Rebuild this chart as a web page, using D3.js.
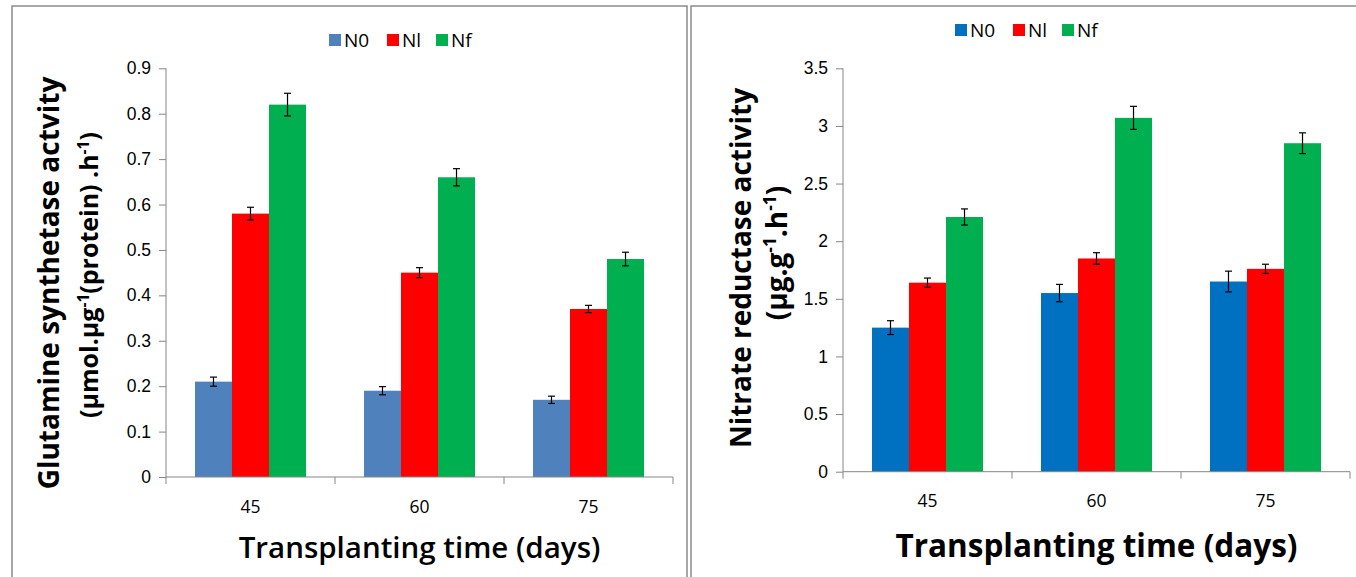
<!DOCTYPE html>
<html>
    <head>
        <meta charset="UTF-8">
        <title>Glutamine synthetase and nitrate reductase activity</title>
        <script src="https://cdn.jsdelivr.net/npm/d3@7"></script>
        <style>
            body { margin: 0; background: #fff; }
            svg { font-family: "Open Sans", sans-serif; }
            .axis path, .axis line { stroke: #868686; }
            .axis text { font-size: 17.5px; fill: #000; }
            .frame { fill: none; stroke: #8c8c8c; stroke-width: 1.5px; }
        </style>
    </head>
    <body>
        <svg width="1356" height="577"></svg>
        <script>
            // transplanting time (days) and treatments
            var days = ['45', '60', '75'];
            var treatments = ['N0', 'Nl', 'Nf'];

            // glutamine synthetase activity
            var gsN0 = [0.21, 0.19, 0.17];
            var gsNl = [0.58, 0.45, 0.37];
            var gsNf = [0.82, 0.66, 0.48];
            var gsErrN0 = [0.010, 0.009, 0.008];
            var gsErrNl = [0.014, 0.011, 0.008];
            var gsErrNf = [0.025, 0.019, 0.015];
            var gsTicks = [0, 0.1, 0.2, 0.3, 0.4, 0.5, 0.6, 0.7, 0.8, 0.9];

            // nitrate reductase activity
            var nrN0 = [1.25, 1.55, 1.65];
            var nrNl = [1.64, 1.85, 1.76];
            var nrNf = [2.21, 3.07, 2.85];
            var nrErrN0 = [0.06, 0.075, 0.09];
            var nrErrNl = [0.04, 0.05, 0.04];
            var nrErrNf = [0.07, 0.1, 0.09];
            var nrTicks = [0, 0.5, 1, 1.5, 2, 2.5, 3, 3.5];

            var svg = d3.select('svg');

            // panel frames
            svg.append('path').attr('class', 'frame').attr('d', 'M12,577V6H687V577');
            svg.append('path').attr('class', 'frame').attr('d', 'M691,577V6H1356');

            function drawPanel(p) {
                var g = svg.append('g');

                var x = d3.scaleBand().domain(days).range([p.x0, p.x1])
                    .paddingInner(0.343).paddingOuter(0.343 / 2);
                var xs = d3.scaleBand().domain(treatments).range([0, x.bandwidth()]);
                var y = d3.scaleLinear().domain([0, p.max]).range([p.y0, p.y1]);

                var rows = [];
                treatments.forEach(function(t, i) {
                    days.forEach(function(d, j) {
                        rows.push({ t: t, day: d, v: p.values[i][j], e: p.errors[i][j] });
                    });
                });

                // y axis
                g.append('g')
                    .attr('class', 'axis')
                    .attr('transform', 'translate(' + p.x0 + ',0)')
                    .call(d3.axisLeft(y).tickValues(p.ticks).tickSize(7).tickPadding(8)
                        .tickFormat(function(d) { return String(d); }))
                    .call(function(a) { a.select('.domain').attr('d', 'M0,' + p.y1 + 'V' + p.y0); });

                // bars
                g.selectAll('.bar')
                    .data(rows)
                    .enter().append('rect')
                    .attr('x', function(d) { return x(d.day) + xs(d.t); })
                    .attr('y', function(d) { return y(d.v); })
                    .attr('width', xs.bandwidth())
                    .attr('height', function(d) { return y(0) - y(d.v); })
                    .attr('fill', function(d) { return p.colors[treatments.indexOf(d.t)]; });

                // error bars
                var eb = g.selectAll('.err')
                    .data(rows)
                    .enter().append('g')
                    .attr('stroke', '#000')
                    .attr('stroke-width', 1.2)
                    .attr('transform', function(d) { return 'translate(' + (x(d.day) + xs(d.t) + xs.bandwidth() / 2) + ',0)'; });
                eb.append('line')
                    .attr('y1', function(d) { return y(d.v + d.e); })
                    .attr('y2', function(d) { return y(d.v - d.e); });
                eb.append('line').attr('x1', -3.5).attr('x2', 3.5)
                    .attr('y1', function(d) { return y(d.v + d.e); })
                    .attr('y2', function(d) { return y(d.v + d.e); });
                eb.append('line').attr('x1', -3.5).attr('x2', 3.5)
                    .attr('y1', function(d) { return y(d.v - d.e); })
                    .attr('y2', function(d) { return y(d.v - d.e); });

                // x axis: line, ticks at category boundaries, labels
                var xa = g.append('g').attr('class', 'axis');
                var step = x.step();
                var bounds = d3.range(days.length + 1).map(function(i) { return p.x0 + i * step; });
                xa.append('line').attr('x1', p.x0).attr('x2', p.x1).attr('y1', y(0)).attr('y2', y(0));
                xa.selectAll('.btick').data(bounds).enter().append('line')
                    .attr('x1', function(d) { return d; }).attr('x2', function(d) { return d; })
                    .attr('y1', y(0)).attr('y2', y(0) + 7);
                xa.selectAll('.lbl').data(days).enter().append('text')
                    .attr('x', function(d) { return x(d) + x.bandwidth() / 2; })
                    .attr('y', p.xLabelY)
                    .attr('text-anchor', 'middle')
                    .text(function(d) { return d; });

                // x title
                g.append('text')
                    .attr('x', (p.x0 + p.x1) / 2 + p.titleDx)
                    .attr('y', p.titleY)
                    .attr('text-anchor', 'middle')
                    .style('font-size', p.titleSize + 'px')
                    .style('font-weight', p.titleWeight)
                    .text('Transplanting time (days)');

                // y title, two lines
                p.yTitle.forEach(function(line, k) {
                    var t = g.append('text')
                        .attr('transform', 'rotate(-90)')
                        .attr('x', -line.cy)
                        .attr('y', line.bx)
                        .attr('text-anchor', 'middle')
                        .style('font-size', line.size + 'px')
                        .style('font-weight', 'bold');
                    line.parts.forEach(function(part) {
                        var s = t.append('tspan').text(part[0]);
                        if (part[1]) {
                            s.attr('dy', -line.size * 0.38).style('font-size', (line.size * 0.62) + 'px');
                        } else if (s.node().previousSibling) {
                            s.attr('dy', line.size * 0.38);
                        }
                    });
                });

                // legend
                var lg = g.append('g').attr('transform', 'translate(' + p.legendX + ',' + p.legendY + ')');
                var offs = [0, 58, 107];
                treatments.forEach(function(t, i) {
                    lg.append('rect').attr('x', offs[i]).attr('y', -6).attr('width', 12).attr('height', 12)
                        .attr('fill', p.colors[i]);
                    lg.append('text').attr('x', offs[i] + 15).attr('y', 6.5)
                        .style('font-size', '19px').text(t);
                });
            }

            drawPanel({
                x0: 166, x1: 673, y0: 477, y1: 68.3, max: 0.9,
                values: [gsN0, gsNl, gsNf], errors: [gsErrN0, gsErrNl, gsErrNf], ticks: gsTicks,
                colors: ['#4f81bd', '#ff0000', '#00b050'],
                xLabelY: 513, titleY: 558, titleDx: 0, titleSize: 29.5, titleWeight: 600,
                legendX: 329, legendY: 40,
                yTitle: [
                    { cy: 283, bx: 59, size: 28, parts: [['Glutamine synthetase actvity']] },
                    { cy: 275, bx: 98, size: 25, parts: [['(µmol.µg'], ['-1', true], ['(protein) .h'], ['-1', true], [')']] }
                ]
            });

            drawPanel({
                x0: 843, x1: 1350, y0: 471.7, y1: 68.3, max: 3.5,
                values: [nrN0, nrNl, nrNf], errors: [nrErrN0, nrErrNl, nrErrNf], ticks: nrTicks,
                colors: ['#0070c0', '#ff0000', '#00b050'],
                xLabelY: 507, titleY: 557, titleDx: 0, titleSize: 31.5, titleWeight: 'bold',
                legendX: 955, legendY: 30,
                yTitle: [
                    { cy: 268, bx: 751, size: 28, parts: [['Nitrate reductase activity']] },
                    { cy: 253, bx: 787, size: 28, parts: [['(µg.g'], ['-1', true], ['.h'], ['-1', true], [')']] }
                ]
            });
        </script>
    </body>
</html>
